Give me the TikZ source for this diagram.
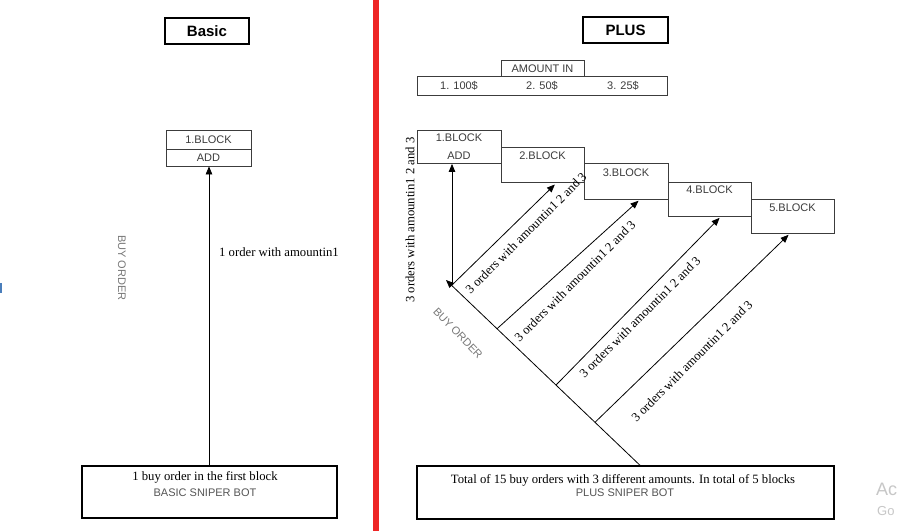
\documentclass[tikz,border=0pt]{standalone}
\usepackage{fontspec}
\setmainfont{Liberation Serif}
\setsansfont{Liberation Sans}
\usetikzlibrary{arrows.meta,calc}
\definecolor{redbar}{RGB}{238,38,38}
\definecolor{blktxt}{RGB}{60,60,60}
\definecolor{lgray}{RGB}{120,120,120}
\definecolor{sgray}{RGB}{85,85,85}
\definecolor{bluemark}{RGB}{74,126,187}
\begin{document}
\begin{tikzpicture}[x=1pt,y=-1pt,
  titlebox/.style={draw=black,line width=2pt,inner sep=0pt,font=\sffamily\bfseries\fontsize{15}{18}\selectfont},
  cell/.style={draw=blktxt,line width=0.8pt,inner sep=0pt},
  bigbox/.style={draw=black,line width=1.4pt,inner sep=0pt},
  stxt/.style={font=\sffamily\fontsize{11}{13}\selectfont,text=blktxt,inner sep=0pt},
  gtxt/.style={font=\sffamily\fontsize{11}{13}\selectfont,text=lgray,inner sep=0pt},
  rtxt/.style={font=\fontsize{12.7}{14}\selectfont,text=black,inner sep=0pt},
  arr/.style={draw=black,line width=0.8pt,-{Triangle[length=8pt,width=6.5pt]}},
  ln/.style={draw=black,line width=0.8pt}]
\useasboundingbox (0,0) rectangle (899,531);
\fill[white] (0,0) rectangle (899,531);
% red divider
\fill[redbar] (373,0) rectangle (379,531);
% left-edge mark
\fill[bluemark] (0,283) rectangle (1.5,293);

% ---------------- BASIC ----------------
\node[titlebox,minimum width=84pt,minimum height=26pt] (basicT) at (207,31) {Basic};
\node[cell,minimum width=85pt,minimum height=19pt] (bb1) at (208.5,139.5) {};
\node[cell,minimum width=85pt,minimum height=17pt] (bb2) at (208.5,157.5) {};
\node[stxt] (bb1t) at (208.5,139.5) {1.BLOCK};
\node[stxt] (bb2t) at (208.5,157.5) {ADD};
\node[bigbox,minimum width=255pt,minimum height=52pt] (lbot) at (209.5,492) {};
\node[rtxt] (lbot1) at (205,477) {1 buy order in the first block};
\node[stxt,text=sgray] (lbot2) at (205,493) {BASIC SNIPER BOT};
\draw[arr] (lbot.north -| 209,0) -- (bb2.south -| 209,0);
\node[rtxt,anchor=west] (lord) at (219,252) {1 order with amountin1};
\node[gtxt,rotate=-90] (lbuy) at (122,268) {BUY ORDER};

% ---------------- PLUS ----------------
\node[titlebox,minimum width=85pt,minimum height=26pt] (plusT) at (625.5,30) {PLUS};
\node[cell,minimum width=83pt,minimum height=16pt] (amt) at (542.5,68) {};
\node[stxt] (amtt) at (542.5,68.5) {AMOUNT IN};
\node[cell,minimum width=250pt,minimum height=19pt] (row) at (542,85.5) {};
\node[stxt] (a1) at (459,86) {1. 100\$};
\node[stxt] (a2) at (542,86) {2. 50\$};
\node[stxt] (a3) at (623,86) {3. 25\$};

\node[cell,minimum width=84pt,minimum height=33pt] (pb1) at (459,146.5) {};
\node[cell,minimum width=83pt,minimum height=35pt] (pb2) at (542.5,164.5) {};
\node[cell,minimum width=84pt,minimum height=36pt] (pb3) at (626,181) {};
\node[cell,minimum width=83pt,minimum height=34pt] (pb4) at (709.5,199) {};
\node[cell,minimum width=83pt,minimum height=34pt] (pb5) at (792.5,216) {};
\node[stxt] (pb1t) at (459,138) {1.BLOCK};
\node[stxt] (pb1a) at (459,156) {ADD};
\node[stxt] (pb2t) at (542.5,156) {2.BLOCK};
\node[stxt] (pb3t) at (626,173) {3.BLOCK};
\node[stxt] (pb4t) at (709.5,190) {4.BLOCK};
\node[stxt] (pb5t) at (792.5,208) {5.BLOCK};

\node[bigbox,minimum width=417pt,minimum height=53pt] (rbot) at (625.5,492.5) {};
\node[rtxt] (rbot1) at (623,480) {Total of 15 buy orders with 3 different amounts. In total of 5 blocks};
\node[stxt,text=sgray] (rbot2) at (625,493) {PLUS SNIPER BOT};

% main diagonal
\coordinate (B) at (rbot.north -| 640,0);
\coordinate (D) at (446,280);
\draw[arr] (B) -- (D);
\coordinate (S1) at (452,285);
\coordinate (S2) at ($(B)!0.737!(D)$);
\coordinate (S3) at ($(B)!0.433!(D)$);
\coordinate (S4) at ($(B)!0.232!(D)$);
% vertical and branch arrows
\draw[arr,shorten >=0.5pt] (S1) -- (pb1.south -| 452,0);
\draw[arr,shorten >=3pt] (S1) -- ($(pb2.south)+(14.5,0)$);
\draw[arr,shorten >=2pt] (S2) -- ($(pb3.south)+(14,0)$);
\draw[arr,shorten >=2pt] (S3) -- ($(pb4.south)+(11.5,0)$);
\draw[arr,shorten >=2pt] (S4) -- ($(pb5.south)+(-2.5,0)$);

\node[rtxt,rotate=90] (vl) at (410,220) {3 orders with amountin1 2 and 3};
\node[rtxt,rotate=45] (d1) at (526,233) {3 orders with amountin1 2 and 3};
\node[rtxt,rotate=45] (d2) at (575,281) {3 orders with amountin1 2 and 3};
\node[rtxt,rotate=45] (d3) at (640,317) {3 orders with amountin1 2 and 3};
\node[rtxt,rotate=45] (d4) at (692,361) {3 orders with amountin1 2 and 3};
\node[gtxt,rotate=-46] (rbuy) at (458,333) {BUY ORDER};

% screen watermark remnants
\node[font=\sffamily\fontsize{18}{20}\selectfont,text=black!22,anchor=west,inner sep=0pt] (wm1) at (876,489) {Ac};
\node[font=\sffamily\fontsize{13}{15}\selectfont,text=black!22,anchor=west,inner sep=0pt] (wm2) at (877,511) {Go};
\end{tikzpicture}
\end{document}
